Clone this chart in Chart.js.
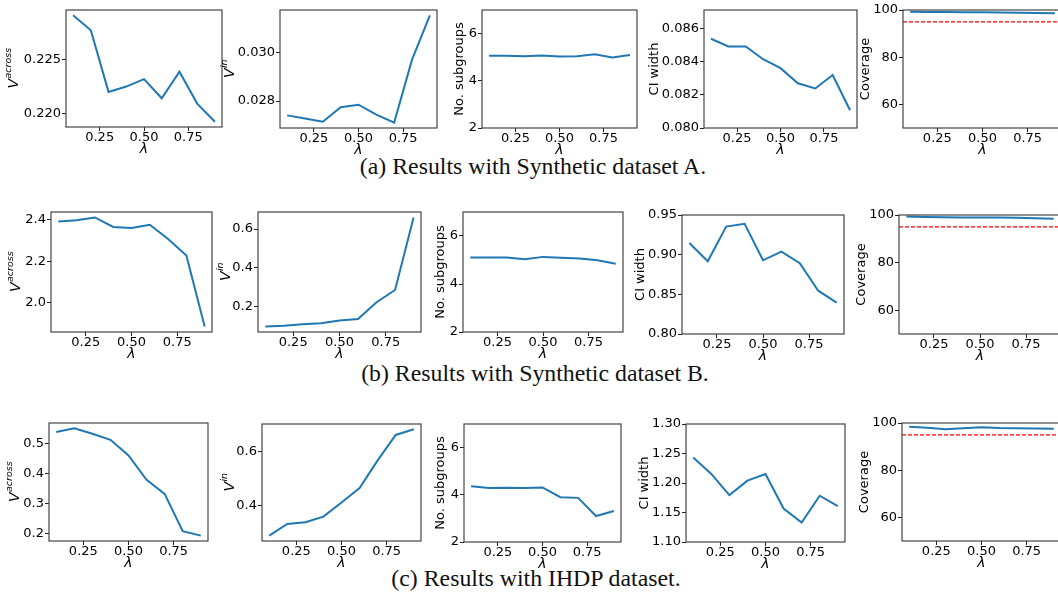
<!DOCTYPE html>
<html>
<head>
<meta charset="utf-8">
<script src="https://cdn.jsdelivr.net/npm/chart.js@4.4.1/dist/chart.umd.min.js"></script>
<style>
  body { margin: 0; width: 1058px; height: 599px; overflow: hidden; background: #fff; position: relative; }
  canvas { position: absolute; }
  .cap { position: absolute; font-family: "Liberation Serif", serif; font-size: 23.8px; line-height: 23.8px;
         white-space: nowrap; transform: translateX(-50%); color: #111; }
</style>
</head>
<body>
<div class="cap" style="left:533px; top:155px">(a) Results with Synthetic dataset A.</div>
<div class="cap" style="left:535px; top:362px">(b) Results with Synthetic dataset B.</div>
<div class="cap" style="left:536px; top:567px">(c) Results with IHDP dataset.</div>
<script>
// lambda grid and x ticks (shared by every panel)
const lambdas = [0.1, 0.2, 0.3, 0.4, 0.5, 0.6, 0.7, 0.8, 0.9];
const xTickVals = [0.25, 0.5, 0.75];
const targetCoverage = 95;

// (a) Synthetic dataset A
const vAcrossA = [0.2292, 0.2278, 0.2220, 0.2225, 0.2232, 0.2214, 0.2239, 0.2209, 0.2192];
const vInA = [0.02741, 0.02728, 0.02715, 0.02775, 0.02785, 0.02744, 0.02711, 0.02971, 0.03154];
const subgroupsA = [5.06, 5.06, 5.04, 5.07, 5.03, 5.04, 5.12, 4.99, 5.09];
const ciWidthA = [0.08537, 0.08491, 0.08491, 0.08414, 0.08360, 0.08269, 0.08238, 0.08319, 0.08107];
const coverageA = [99.3, 99.2, 99.1, 99.0, 99.0, 98.9, 98.8, 98.7, 98.6];

// (b) Synthetic dataset B
const vAcrossB = [2.392, 2.397, 2.411, 2.365, 2.360, 2.376, 2.307, 2.227, 1.885];
const vInB = [0.096, 0.100, 0.108, 0.113, 0.127, 0.135, 0.222, 0.285, 0.660];
const subgroupsB = [5.10, 5.10, 5.10, 5.03, 5.13, 5.09, 5.06, 4.99, 4.84];
const ciWidthB = [0.9146, 0.8917, 0.9354, 0.9388, 0.8929, 0.9038, 0.8892, 0.8546, 0.8396];
const coverageB = [99.4, 99.2, 99.1, 99.0, 98.9, 99.0, 98.8, 98.6, 98.4];

// (c) IHDP dataset
const vAcrossC = [0.539, 0.551, 0.533, 0.513, 0.461, 0.380, 0.333, 0.209, 0.194];
const vInC = [0.286, 0.330, 0.336, 0.357, 0.410, 0.464, 0.567, 0.662, 0.683];
const subgroupsC = [4.36, 4.29, 4.30, 4.29, 4.31, 3.90, 3.87, 3.10, 3.31];
const ciWidthC = [1.2432, 1.2153, 1.1795, 1.2040, 1.2153, 1.1568, 1.1330, 1.1784, 1.1608];
const coverageC = [98.4, 98.0, 97.4, 97.8, 98.2, 97.9, 97.8, 97.7, 97.6];

// y tick values
const ticksVAcrossA = [0.220, 0.225];
const ticksVInA = [0.028, 0.030];
const ticksCiA = [0.080, 0.082, 0.084, 0.086];
const ticksVAcrossB = [2.0, 2.2, 2.4];
const ticksVInB = [0.2, 0.4, 0.6];
const ticksCiB = [0.80, 0.85, 0.90, 0.95];
const ticksVAcrossC = [0.2, 0.3, 0.4, 0.5];
const ticksVInC = [0.4, 0.6];
const ticksCiC = [1.10, 1.15, 1.20, 1.25, 1.30];
const ticksSubgroups = [2, 4, 6];
const ticksCoverage = [60, 80, 100];

Chart.defaults.font.family = 'DejaVu Sans';
Chart.defaults.font.size = 13;
Chart.defaults.color = '#000';

const PL = 72, PT = 10, PR = 6, PB = 40;
const X_MIN = 0.06, X_MAX = 0.94;

// spines (matplotlib box) and y labels with superscripts
const axisDecor = {
  id: 'axisDecor',
  afterDatasetsDraw(chart, args, o) {
    const { ctx } = chart;
    const { left, top, right, bottom } = chart.chartArea;
    ctx.save();
    ctx.strokeStyle = '#333';
    ctx.lineWidth = 1.1;
    ctx.strokeRect(left, top, right - left, bottom - top);

    ctx.fillStyle = '#000';
    ctx.translate(left - o.off, (top + bottom) / 2);
    ctx.rotate(-Math.PI / 2);
    ctx.textBaseline = 'middle';
    if (o.sup) {
      ctx.font = 'italic 14px "DejaVu Sans"';
      const wv = ctx.measureText(o.label).width;
      ctx.font = 'italic 9.5px "DejaVu Sans"';
      const ws = ctx.measureText(o.sup).width;
      const x0 = -(wv + ws) / 2;
      ctx.textAlign = 'left';
      ctx.font = 'italic 14px "DejaVu Sans"';
      ctx.fillText(o.label, x0, 0);
      ctx.font = 'italic 9.5px "DejaVu Sans"';
      ctx.fillText(o.sup, x0 + wv + 0.5, -5);
    } else {
      ctx.font = '13px "DejaVu Sans"';
      ctx.textAlign = 'center';
      ctx.fillText(o.label, 0, 0);
    }
    ctx.restore();
  }
};

function autoRange(vals) {
  const lo = Math.min(...vals), hi = Math.max(...vals);
  const pad = (hi - lo) * 0.05;
  return [lo - pad, hi + pad];
}

function makePanel(p) {
  const cv = document.createElement('canvas');
  cv.width = (p.r - p.l) + PL + PR;
  cv.height = (p.b - p.t) + PT + PB;
  cv.style.left = (p.l - PL) + 'px';
  cv.style.top = (p.t - PT) + 'px';
  document.body.appendChild(cv);

  const [yMin, yMax] = p.lim || autoRange(p.y);
  const datasets = [{
    data: lambdas.map((x, i) => ({ x: x, y: p.y[i] })),
    borderColor: '#1f77b4',
    borderWidth: 2,
    pointRadius: 0,
    tension: 0
  }];
  if (p.target) {
    datasets.push({
      data: [{ x: X_MIN, y: p.target }, { x: X_MAX, y: p.target }],
      borderColor: '#ff0000',
      borderWidth: 1.2,
      borderDash: [4, 2],
      pointRadius: 0
    });
  }

  const grid = { drawOnChartArea: false, drawTicks: true, tickLength: 4, color: '#222', lineWidth: 1 };

  new Chart(cv, {
    type: 'line',
    data: { datasets },
    plugins: [axisDecor],
    options: {
      responsive: false,
      animation: false,
      layout: { padding: { left: 0, top: PT, right: PR, bottom: 0 } },
      plugins: {
        legend: { display: false },
        tooltip: { enabled: false },
        axisDecor: { label: p.lab, sup: p.sup, off: p.off }
      },
      scales: {
        x: {
          type: 'linear',
          min: X_MIN,
          max: X_MAX,
          afterBuildTicks: s => { s.ticks = xTickVals.map(v => ({ value: v })); },
          afterFit: s => { s.height = PB; },
          ticks: { callback: v => v.toFixed(2), padding: -1, maxRotation: 0, autoSkip: false },
          grid: grid,
          border: { display: false },
          title: { display: true, text: 'λ', font: { size: 14, style: 'italic' }, padding: { top: 0, bottom: 9 } }
        },
        y: {
          type: 'linear',
          min: yMin,
          max: yMax,
          afterBuildTicks: s => { s.ticks = p.ticks.map(v => ({ value: v })); },
          afterFit: s => { s.width = PL; },
          ticks: { callback: v => v.toFixed(p.dec), padding: 1, autoSkip: false },
          grid: grid,
          border: { display: false }
        }
      }
    }
  });
}

const panels = [
  // row (a)
  { l: 66, t: 10, r: 222, b: 127, y: vAcrossA, ticks: ticksVAcrossA, dec: 3, lab: 'V', sup: 'across', off: 52 },
  { l: 280, t: 10, r: 437, b: 128, y: vInA, ticks: ticksVInA, dec: 3, lab: 'V', sup: 'in', off: 50 },
  { l: 482, t: 10, r: 637, b: 128, y: subgroupsA, lim: [2, 7], ticks: ticksSubgroups, dec: 0, lab: 'No. subgroups', off: 22 },
  { l: 704, t: 10, r: 857, b: 128, y: ciWidthA, lim: [0.080, 0.0871], ticks: ticksCiA, dec: 3, lab: 'CI width', off: 49 },
  { l: 903, t: 10, r: 1062, b: 128, y: coverageA, lim: [50, 100], ticks: ticksCoverage, dec: 0, lab: 'Coverage', off: 37, target: targetCoverage },
  // row (b)
  { l: 51, t: 212, r: 212, b: 332, y: vAcrossB, ticks: ticksVAcrossB, dec: 1, lab: 'V', sup: 'across', off: 35 },
  { l: 258, t: 212, r: 421, b: 332, y: vInB, ticks: ticksVInB, dec: 1, lab: 'V', sup: 'in', off: 32 },
  { l: 463, t: 212, r: 623, b: 332, y: subgroupsB, lim: [2, 7], ticks: ticksSubgroups, dec: 0, lab: 'No. subgroups', off: 22 },
  { l: 682, t: 215, r: 844, b: 334, y: ciWidthB, lim: [0.80, 0.95], ticks: ticksCiB, dec: 2, lab: 'CI width', off: 41 },
  { l: 899, t: 215, r: 1061, b: 334, y: coverageB, lim: [50, 100], ticks: ticksCoverage, dec: 0, lab: 'Coverage', off: 37, target: targetCoverage },
  // row (c)
  { l: 49, t: 423, r: 208, b: 541, y: vAcrossC, ticks: ticksVAcrossC, dec: 1, lab: 'V', sup: 'across', off: 34 },
  { l: 262, t: 424, r: 421, b: 541, y: vInC, ticks: ticksVInC, dec: 1, lab: 'V', sup: 'in', off: 32 },
  { l: 464, t: 424, r: 621, b: 542, y: subgroupsC, lim: [2, 7], ticks: ticksSubgroups, dec: 0, lab: 'No. subgroups', off: 23 },
  { l: 686, t: 424, r: 845, b: 542, y: ciWidthC, lim: [1.10, 1.30], ticks: ticksCiC, dec: 2, lab: 'CI width', off: 41 },
  { l: 902, t: 423, r: 1061, b: 541, y: coverageC, lim: [50, 100], ticks: ticksCoverage, dec: 0, lab: 'Coverage', off: 37, target: targetCoverage }
];

panels.forEach(makePanel);
</script>
</body>
</html>
